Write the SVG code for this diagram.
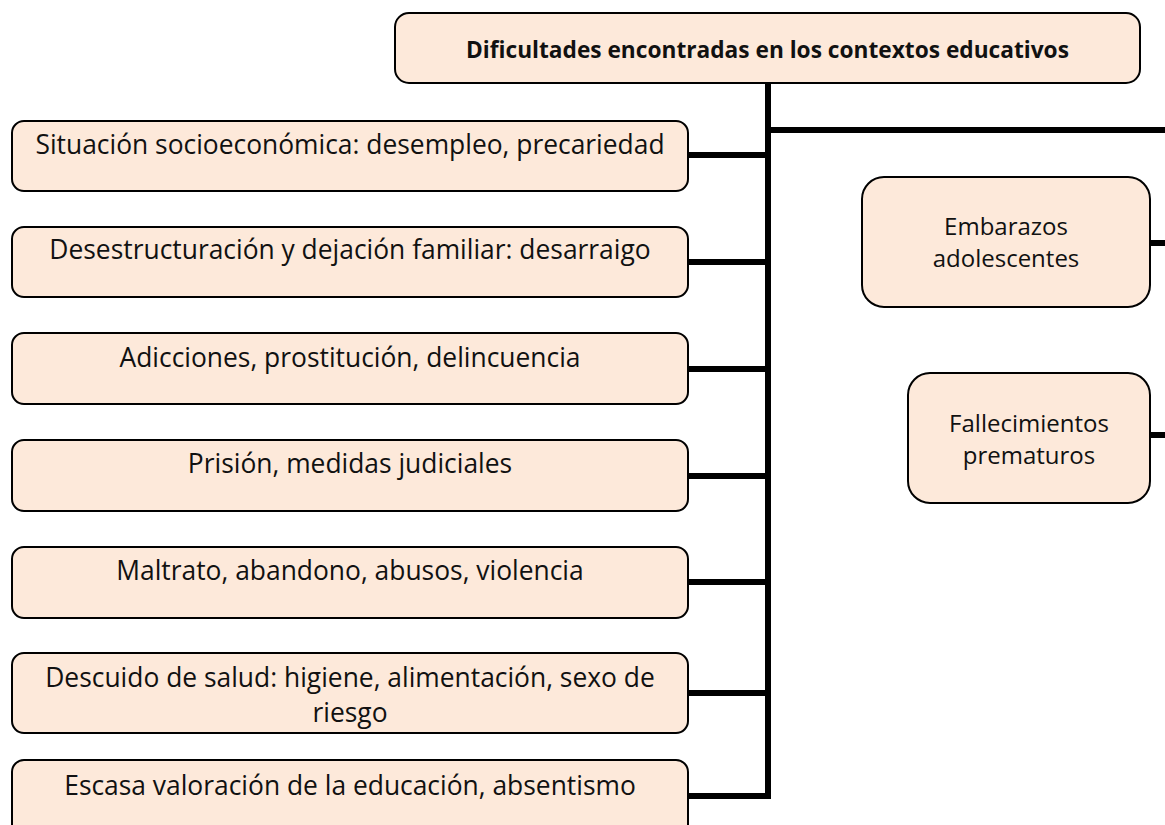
<svg xmlns="http://www.w3.org/2000/svg" width="1165" height="825" viewBox="0 0 1165 825">
<style>
.box{fill:#FDE9DA;stroke:#000;stroke-width:2}
.t{font-family:"Open Sans","Noto Sans",sans-serif;font-size:26.4px;fill:#111;text-anchor:middle}
.tr{font-family:"Open Sans","Noto Sans",sans-serif;font-size:24px;fill:#111;text-anchor:middle}
.tb{font-family:"Open Sans","Noto Sans",sans-serif;font-size:22.7px;font-weight:bold;fill:#111;text-anchor:middle}
.c{stroke:#000;stroke-width:6;fill:none}
</style>
<rect width="1165" height="825" fill="#fff"/>
<g id="connectors">
<line class="c" x1="768" y1="83" x2="768" y2="796" stroke-linecap="square"/>
<line class="c" x1="768" y1="130" x2="1165" y2="130"/>
<line class="c" x1="688" y1="155" x2="768" y2="155"/>
<line class="c" x1="688" y1="262" x2="768" y2="262"/>
<line class="c" x1="688" y1="369" x2="768" y2="369"/>
<line class="c" x1="688" y1="476" x2="768" y2="476"/>
<line class="c" x1="688" y1="582" x2="768" y2="582"/>
<line class="c" x1="688" y1="693" x2="768" y2="693"/>
<line class="c" x1="688" y1="796" x2="768" y2="796"/>
<line class="c" x1="1150" y1="243" x2="1165" y2="243"/>
<line class="c" x1="1150" y1="435" x2="1165" y2="435"/>
</g>
<g id="root">
<rect class="box" x="395" y="13" width="745" height="70" rx="14"/>
<text class="tb" x="767.5" y="58">Dificultades encontradas en los contextos educativos</text>
</g>
<g id="n1">
<rect class="box" x="12" y="121" width="676" height="70" rx="12"/>
<text class="t" x="350" y="154">Situación socioeconómica: desempleo, precariedad</text>
</g>
<g id="n2">
<rect class="box" x="12" y="227" width="676" height="70" rx="12"/>
<text class="t" x="350" y="259">Desestructuración y dejación familiar: desarraigo</text>
</g>
<g id="n3">
<rect class="box" x="12" y="333" width="676" height="71" rx="12"/>
<text class="t" x="350" y="367">Adicciones, prostitución, delincuencia</text>
</g>
<g id="n4">
<rect class="box" x="12" y="440" width="676" height="71" rx="12"/>
<text class="t" x="350" y="473">Prisión, medidas judiciales</text>
</g>
<g id="n5">
<rect class="box" x="12" y="547" width="676" height="71" rx="12"/>
<text class="t" x="350" y="580">Maltrato, abandono, abusos, violencia</text>
</g>
<g id="n6">
<rect class="box" x="12" y="653" width="676" height="80" rx="12"/>
<text class="t" x="350" y="687">Descuido de salud: higiene, alimentación, sexo de</text>
<text class="t" x="350" y="722">riesgo</text>
</g>
<g id="n7">
<rect class="box" x="12" y="760" width="676" height="80" rx="12"/>
<text class="t" x="350" y="795">Escasa valoración de la educación, absentismo</text>
</g>
<g id="n8">
<rect class="box" x="862" y="177" width="288" height="130" rx="22"/>
<text class="tr" x="1006" y="235">Embarazos</text>
<text class="tr" x="1006" y="267">adolescentes</text>
</g>
<g id="n9">
<rect class="box" x="908" y="373" width="242" height="130" rx="22"/>
<text class="tr" x="1029" y="432">Fallecimientos</text>
<text class="tr" x="1029" y="464">prematuros</text>
</g>
</svg>
